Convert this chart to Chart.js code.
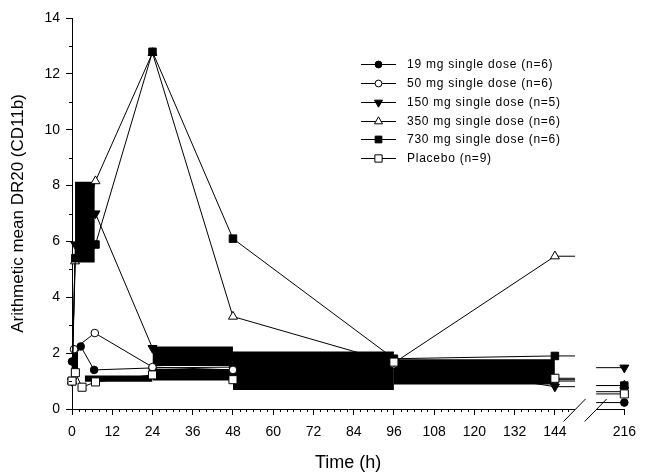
<!DOCTYPE html>
<html><head><meta charset="utf-8">
<script src="https://cdn.jsdelivr.net/npm/chart.js@4.4.1/dist/chart.umd.min.js"></script>
<style>html,body{margin:0;padding:0;background:#fff}#wrap{width:645px;height:474px}</style>
</head><body><div id="wrap"><canvas id="c" width="645" height="474"></canvas></div>
<script>
// ---- data ----
const seriesLabels = ['19 mg single dose (n=6)', '50 mg single dose (n=6)', '150 mg single dose (n=5)',
                      '350 mg single dose (n=6)', '730 mg single dose (n=6)', 'Placebo (n=9)'];
const time19  = [0, 2.6, 6.6, 24, 48, 96, 144, 216];
const val19   = [1.7, 2.24, 1.4, 1.47, 1.5, 1.6, 1.0, 0.23];
const time50  = [0, 0.6, 6.8, 24, 48, 96, 144, 216];
const val50   = [1.0, 2.14, 2.72, 1.5, 1.4, 1.6, 1.05, 0.62];
const time150 = [0, 1, 7, 24, 48, 96, 144, 216];
const val150  = [1.0, 5.89, 7.0, 2.18, 1.9, 1.7, 0.8, 1.48];
const time350 = [0, 0.9, 7, 24, 48, 96, 144, 216];
const val350  = [1.0, 5.29, 8.16, 12.75, 3.31, 1.65, 5.47, 0.84];
const time730 = [0, 1, 7, 24, 48, 96, 144, 216];
const val730  = [1.0, 5.4, 5.89, 12.79, 6.1, 1.8, 1.9, 0.84];
const timePlacebo = [0, 1, 3, 7, 24, 48, 96, 144, 216];
const valPlacebo  = [1.0, 1.3, 0.78, 0.97, 1.22, 1.05, 1.68, 1.1, 0.54];

// solid black areas seen in the reference (hours and DR20 values)
const bandStart = [0.9, 0, 3.8, 24, 24, 48, 96];
const bandEnd   = [6.8, 1.8, 24, 48, 48, 96, 144];
const bandLow   = [5.25, 1.22, 0.98, 1.54, 1.02, 0.68, 0.88];
const bandHigh  = [8.14, 2.03, 1.2, 2.24, 1.43, 2.06, 1.78];

const xTickHours = [0, 12, 24, 36, 48, 60, 72, 84, 96, 108, 120, 132, 144, 216];
const yTickValues = [0, 2, 4, 6, 8, 10, 12, 14];

// broken time axis: hours after the break are shifted left
const BREAK_AT = 150, BREAK_SHIFT = 51.3, BREAK_END = 156.3;
const mapX = t => t > BREAK_AT ? t - BREAK_SHIFT : t;
const unmapX = v => v > BREAK_AT ? Math.round(v + BREAK_SHIFT) : v;

const times = [time19, time50, time150, time350, time730, timePlacebo];
const vals = [val19, val50, val150, val350, val730, valPlacebo];
const styles = [
  {pointStyle: 'circle', fill: '#000', r: 3.8, rot: 0},
  {pointStyle: 'circle', fill: '#fff', r: 3.8, rot: 0},
  {pointStyle: 'triangle', fill: '#000', r: 5.2, rot: 180},
  {pointStyle: 'triangle', fill: '#fff', r: 5.2, rot: 0},
  {pointStyle: 'rect', fill: '#000', r: 5.3, rot: 0},
  {pointStyle: 'rect', fill: '#fff', r: 5.7, rot: 0}
];

const datasets = [];
seriesLabels.forEach((lab, i) => {
  const s = styles[i];
  const pts = times[i].map((t, k) => ({x: mapX(t), y: vals[i][k]}));
  datasets.push({
    label: lab,
    data: pts,
    borderColor: '#000', borderWidth: 1,
    segment: {borderColor: c => (c.p1.parsed.x > BREAK_AT ? 'rgba(0,0,0,0)' : undefined)},
    pointStyle: s.pointStyle, pointRotation: s.rot, pointRadius: s.r,
    pointBackgroundColor: s.fill, pointBorderColor: '#000', pointBorderWidth: 1,
    fill: false, tension: 0, clip: false, order: 6 - i
  });
  // connection across the axis break (last point before and point after the break)
  const before = pts.filter(p => p.x <= BREAK_AT).slice(-1);
  const after = pts.filter(p => p.x > BREAK_AT - BREAK_SHIFT && times[i][pts.indexOf(p)] > BREAK_AT);
  datasets.push({
    label: '',
    data: before.concat(after),
    borderColor: '#000', borderWidth: 1, stepped: 'middle',
    pointRadius: 0, fill: false, clip: false, order: 15
  });
});
bandStart.forEach((s, i) => {
  datasets.push({
    label: '',
    data: [{x: mapX(s), y: bandHigh[i]}, {x: mapX(bandEnd[i]), y: bandHigh[i]}],
    borderWidth: 0, borderColor: '#000', pointRadius: 0,
    backgroundColor: '#000', fill: {value: bandLow[i]}, clip: false, order: 20
  });
});

const FONT = '"Liberation Sans", Arial, sans-serif';

const decor = {
  id: 'decor',
  afterDatasetsDraw(chart) {
    const ctx = chart.ctx, xs = chart.scales.x, ys = chart.scales.y;
    const a = chart.chartArea;
    ctx.save();
    ctx.strokeStyle = '#000'; ctx.lineWidth = 1;
    // minor ticks
    ctx.beginPath();
    for (let h = 2; h <= 148; h += 2) {
      if (h % 12 === 0) continue;
      const px = Math.round(xs.getPixelForValue(h)) + 0.5;
      ctx.moveTo(px, a.bottom); ctx.lineTo(px, a.bottom + 3);
    }
    for (let v = 1; v < 14; v += 2) {
      const py = Math.round(ys.getPixelForValue(v)) + 0.5;
      ctx.moveTo(a.left, py); ctx.lineTo(a.left - 3, py);
    }
    ctx.stroke();
    // axis break
    const p1 = xs.getPixelForValue(BREAK_AT), p2 = xs.getPixelForValue(BREAK_END);
    ctx.fillStyle = '#fff';
    ctx.fillRect(p1, a.top - 5, p2 - p1, a.bottom - a.top + 7);
    ctx.beginPath();
    [p1, p2].forEach(p => { ctx.moveTo(p - 11.5, a.bottom + 12.5); ctx.lineTo(p + 10.5, a.bottom - 10); });
    ctx.stroke();
    ctx.restore();
  },
  afterDraw(chart) {
    const ctx = chart.ctx;
    const items = chart.data.datasets.filter(d => d.label);
    ctx.save();
    ctx.font = '12px ' + FONT;
    ctx.textBaseline = 'middle';
    ctx.strokeStyle = '#000'; ctx.lineWidth = 1;
    items.forEach((d, i) => {
      const y = Math.round(64 + i * 18.85) + 0.5;
      ctx.beginPath(); ctx.moveTo(361, y); ctx.lineTo(396, y); ctx.stroke();
      ctx.fillStyle = d.pointBackgroundColor;
      Chart.helpers.drawPoint(ctx, {pointStyle: d.pointStyle, rotation: d.pointRotation, radius: d.pointRadius * 0.9, borderWidth: 1}, 378.5, y);
      ctx.fillStyle = '#000';
      if ('letterSpacing' in ctx) ctx.letterSpacing = '0.75px';
      ctx.fillText(d.label, 407, y + 0.5);
      if ('letterSpacing' in ctx) ctx.letterSpacing = '0px';
    });
    ctx.restore();
  }
};

new Chart(document.getElementById('c'), {
  type: 'line',
  data: {datasets},
  plugins: [decor],
  options: {
    responsive: false, devicePixelRatio: 1, animation: false,
    layout: {padding: {top: 18, right: 13, left: 0, bottom: 0}},
    plugins: {legend: {display: false}, tooltip: {enabled: false}},
    scales: {
      x: {
        type: 'linear', min: 0, max: mapX(216),
        afterBuildTicks: s => { s.ticks = xTickHours.map(h => ({value: mapX(h)})); },
        afterFit: s => { s.height = 65; },
        grid: {drawOnChartArea: false, tickLength: 6, tickColor: '#000', tickWidth: 1},
        border: {color: '#000', width: 1},
        ticks: {color: '#000', font: {family: FONT, size: 14}, padding: 9, maxRotation: 0,
                autoSkip: false, callback: v => String(unmapX(v))},
        title: {display: true, text: 'Time (h)', color: '#000', font: {family: FONT, size: 18},
                padding: {top: 0, bottom: 0}}
      },
      y: {
        type: 'linear', min: 0, max: 14,
        afterBuildTicks: s => { s.ticks = yTickValues.map(v => ({value: v})); },
        afterFit: s => { s.width = 72; },
        grid: {drawOnChartArea: false, tickLength: 6, tickColor: '#000', tickWidth: 1},
        border: {color: '#000', width: 1},
        ticks: {color: '#000', font: {family: FONT, size: 14}, padding: 6},
        title: {display: true, text: 'Arithmetic mean DR20 (CD11b)', color: '#000',
                font: {family: FONT, size: 17}, padding: {top: 8, bottom: 0}}
      }
    }
  }
});
</script></body></html>
